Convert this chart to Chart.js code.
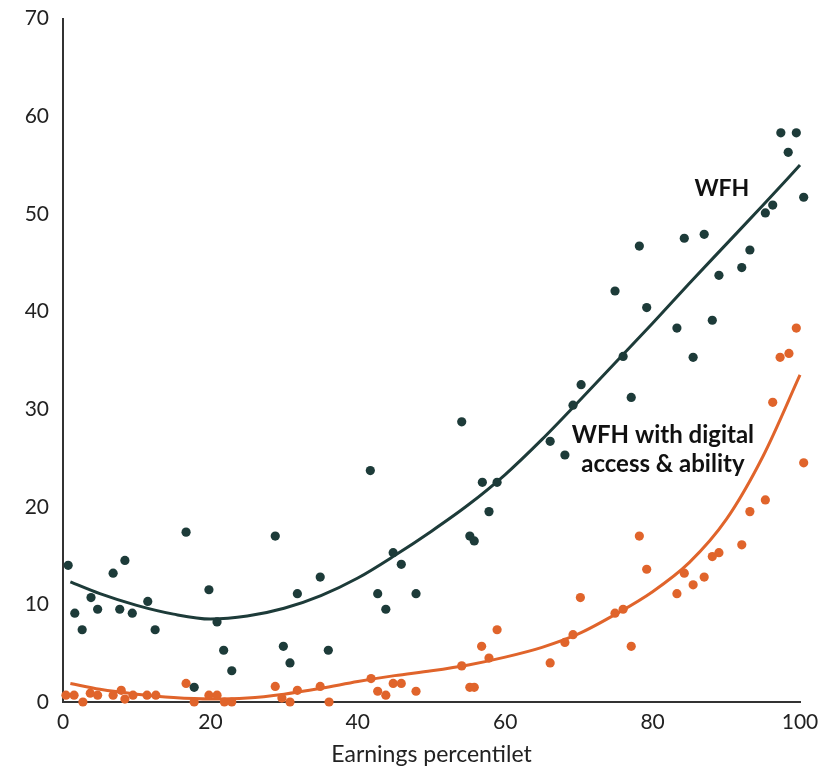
<!DOCTYPE html>
<html>
<head>
<meta charset="utf-8">
<script src="https://cdn.jsdelivr.net/npm/chart.js@4"></script>
<style>
  html, body { margin: 0; padding: 0; background: #fff; }
  #wrap { width: 826px; height: 768px; }
</style>
</head>
<body>
<div id="wrap"><canvas id="wfhChart"></canvas></div>
<script>
// scatter points (x = earnings percentile, y = share)
const wfhX = [0.7, 1.6, 2.6, 3.8, 4.7, 6.8, 7.7, 8.4, 9.4, 11.5, 12.5, 16.7, 17.8, 19.8, 20.9, 21.8, 22.9,
  28.8, 29.9, 30.8, 31.8, 34.9, 36.0, 41.7, 42.7, 43.8, 44.8, 45.9, 47.9, 54.1, 55.2, 55.8, 56.9, 57.8, 58.9,
  66.1, 68.1, 69.2, 70.3, 74.9, 76.0, 77.1, 78.2, 79.2, 83.3, 84.3, 85.5, 87.0, 88.1, 89.0, 92.1, 93.2,
  95.3, 96.3, 97.4, 98.4, 99.5, 100.5];
const wfhY = [14.0, 9.1, 7.4, 10.7, 9.5, 13.2, 9.5, 14.5, 9.1, 10.3, 7.4, 17.4, 1.5, 11.5, 8.2, 5.3, 3.2,
  17.0, 5.7, 4.0, 11.1, 12.8, 5.3, 23.7, 11.1, 9.5, 15.3, 14.1, 11.1, 28.7, 17.0, 16.5, 22.5, 19.5, 22.5,
  26.7, 25.3, 30.4, 32.5, 42.1, 35.4, 31.2, 46.7, 40.4, 38.3, 47.5, 35.3, 47.9, 39.1, 43.7, 44.5, 46.3,
  50.1, 50.9, 58.3, 56.3, 58.3, 51.7];

const digX = [0.4, 1.5, 2.7, 3.7, 4.7, 6.8, 7.9, 8.4, 9.5, 11.4, 12.6, 16.7, 17.8, 19.8, 20.9, 21.9, 22.9,
  28.8, 29.7, 30.8, 31.8, 34.9, 36.1, 41.8, 42.7, 43.8, 44.8, 45.9, 47.9, 54.1, 55.2, 55.8, 56.8, 57.8, 58.9,
  66.1, 68.1, 69.2, 70.2, 74.9, 76.0, 77.1, 78.2, 79.2, 83.3, 84.3, 85.5, 87.0, 88.1, 89.0, 92.1, 93.2,
  95.3, 96.3, 97.3, 98.5, 99.5, 100.5];
const digY = [0.7, 0.7, 0.0, 0.9, 0.7, 0.7, 1.2, 0.3, 0.7, 0.7, 0.7, 1.9, 0.0, 0.7, 0.7, 0.0, 0.0,
  1.6, 0.4, 0.0, 1.2, 1.6, 0.0, 2.4, 1.1, 0.7, 1.9, 1.9, 1.1, 3.7, 1.5, 1.5, 5.7, 4.5, 7.4,
  4.0, 6.1, 6.9, 10.7, 9.1, 9.5, 5.7, 17.0, 13.6, 11.1, 13.2, 12.0, 12.8, 14.9, 15.3, 16.1, 19.5,
  20.7, 30.7, 35.3, 35.7, 38.3, 24.5];

// fitted curves
const fitX = [1, 5, 10, 15, 20, 25, 30, 35, 40, 45, 50, 55, 60, 65, 70, 75, 80, 85, 90, 95, 100];
const wfhFit = [12.3, 11.1, 9.9, 9.0, 8.5, 8.8, 9.6, 10.9, 12.7, 15.0, 17.5, 20.2, 23.3, 26.9, 30.8, 34.8, 38.8, 42.9, 46.9, 50.9, 55.0];
const digFit = [1.9, 1.3, 0.8, 0.45, 0.3, 0.4, 0.8, 1.4, 2.1, 2.7, 3.2, 3.8, 4.6, 5.6, 7.0, 9.0, 11.3, 14.3, 18.7, 25.2, 33.5];

const xTicks = [0, 20, 40, 60, 80, 100];
const yTicks = [0, 10, 20, 30, 40, 50, 60, 70];

const DARK = '#1d3b39';
const ORANGE = '#e0642b';

const toPts = (xs, ys) => xs.map((x, i) => ({ x: x, y: ys[i] }));

// series labels written inside the plot
const curveLabels = {
    id: 'curveLabels',
    afterDatasetsDraw(chart) {
        const { ctx, scales } = chart;
        const x = scales.x, y = scales.y;
        ctx.save();
        ctx.fillStyle = '#111';
        ctx.textAlign = 'center';
        ctx.textBaseline = 'middle';
        ctx.font = 'bold 23px Lato';
        ctx.fillText('WFH', x.getPixelForValue(89.4), y.getPixelForValue(52.6));
        ctx.font = 'bold 24px Lato';
        ctx.fillText('WFH with digital', x.getPixelForValue(81.4), y.getPixelForValue(27.3));
        ctx.fillText('access & ability', x.getPixelForValue(81.4), y.getPixelForValue(24.3));
        ctx.restore();
    }
};

const ctx = document.getElementById('wfhChart').getContext('2d');
const chart = new Chart(ctx, {
    type: 'scatter',
    data: {
        datasets: [
            {
                label: 'WFH',
                data: toPts(wfhX, wfhY),
                backgroundColor: DARK,
                borderColor: DARK,
                pointRadius: 4.6,
                pointBorderWidth: 0,
                clip: false,
                order: 1
            },
            {
                label: 'WFH fit',
                data: toPts(fitX, wfhFit),
                showLine: true,
                borderColor: DARK,
                borderWidth: 3,
                pointRadius: 0,
                cubicInterpolationMode: 'monotone',
                clip: false,
                order: 2
            },
            {
                label: 'WFH with digital access & ability',
                data: toPts(digX, digY),
                backgroundColor: ORANGE,
                borderColor: ORANGE,
                pointRadius: 4.6,
                pointBorderWidth: 0,
                clip: false,
                order: 3
            },
            {
                label: 'Digital fit',
                data: toPts(fitX, digFit),
                showLine: true,
                borderColor: ORANGE,
                borderWidth: 3,
                pointRadius: 0,
                cubicInterpolationMode: 'monotone',
                clip: false,
                order: 4
            }
        ]
    },
    options: {
        responsive: true,
        maintainAspectRatio: false,
        animation: false,
        layout: { padding: { left: 0, top: 2, right: 26, bottom: 0 } },
        plugins: {
            legend: { display: false },
            tooltip: { enabled: false }
        },
        scales: {
            x: {
                type: 'linear',
                min: 0,
                max: 100,
                afterBuildTicks: (s) => { s.ticks = xTicks.map(v => ({ value: v })); },
                afterFit: (s) => { s.height = 66; },
                grid: { display: false },
                border: { display: true, color: '#333', width: 2 },
                ticks: { color: '#222', font: { family: 'Lato', size: 21 }, padding: 0 },
                title: {
                    display: true,
                    text: 'Earnings percentilet',
                    color: '#222',
                    font: { family: 'Lato', size: 23 },
                    padding: { top: 0, bottom: 0 }
                }
            },
            y: {
                min: 0,
                max: 70,
                afterBuildTicks: (s) => { s.ticks = yTicks.map(v => ({ value: v })); },
                afterFit: (s) => { s.width = 63; },
                grid: { display: false },
                border: { display: true, color: '#333', width: 2 },
                ticks: { color: '#222', font: { family: 'Lato', size: 21 }, padding: 6 }
            }
        }
    },
    plugins: [curveLabels]
});
</script>
</body>
</html>
